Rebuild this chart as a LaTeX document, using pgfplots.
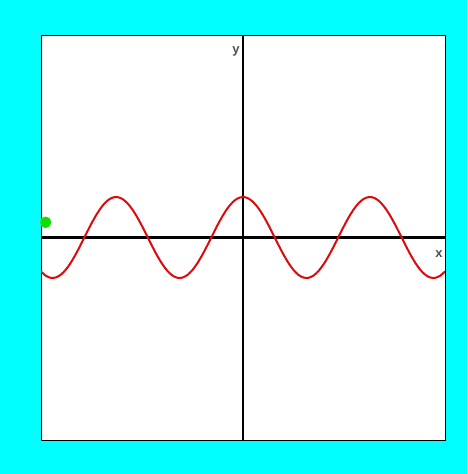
\documentclass[border=0pt]{standalone}
\usepackage{pgfplots}
\pgfplotsset{compat=1.18}
\usepackage{fontspec}
\setmainfont{Liberation Sans}
\definecolor{bgcyan}{RGB}{0,255,255}
\definecolor{curvered}{RGB}{220,10,10}
\definecolor{dotgreen}{RGB}{20,220,0}
\definecolor{labgray}{RGB}{80,80,80}
\begin{document}
\begin{tikzpicture}
\fill[bgcyan] (0,0) rectangle (467pt,474pt);
\begin{axis}[
    at={(41pt,34pt)}, anchor=south west,
    width=404pt, height=405pt, scale only axis,
    xmin=-10, xmax=10, ymin=-5, ymax=5,
    axis background/.style={fill=white},
    axis line style={black, line width=0.8pt},
    xtick=\empty, ytick=\empty,
    clip=true,
]
% axes through the origin
\addplot[black, line width=2.1pt] coordinates {(-10,0) (10,0)};
\addplot[black, line width=2.1pt] coordinates {(0,-5) (0,5)};
\addplot[curvered, line width=2pt, smooth] coordinates {
(-10,-0.8391) (-9.75,-0.9476) (-9.5,-0.9972) (-9.25,-0.9848) (-9,-0.9111)
(-8.75,-0.7809) (-8.5,-0.6020) (-8.25,-0.3858) (-8,-0.1455) (-7.75,0.1038)
(-7.5,0.3466) (-7.25,0.5679) (-7,0.7539) (-6.75,0.8930) (-6.5,0.9766)
(-6.25,0.9994) (-6,0.9602) (-5.75,0.8612) (-5.5,0.7087) (-5.25,0.5120)
(-5,0.2837) (-4.75,0.0376) (-4.5,-0.2108) (-4.25,-0.4461) (-4,-0.6536)
(-3.75,-0.8206) (-3.5,-0.9365) (-3.25,-0.9941) (-3,-0.9900) (-2.75,-0.9243)
(-2.5,-0.8011) (-2.25,-0.6282) (-2,-0.4161) (-1.75,-0.1782) (-1.5,0.0707)
(-1.25,0.3153) (-1,0.5403) (-0.75,0.7317) (-0.5,0.8776) (-0.25,0.9689)
(0,1)
(0.25,0.9689) (0.5,0.8776) (0.75,0.7317) (1,0.5403) (1.25,0.3153)
(1.5,0.0707) (1.75,-0.1782) (2,-0.4161) (2.25,-0.6282) (2.5,-0.8011)
(2.75,-0.9243) (3,-0.9900) (3.25,-0.9941) (3.5,-0.9365) (3.75,-0.8206)
(4,-0.6536) (4.25,-0.4461) (4.5,-0.2108) (4.75,0.0376) (5,0.2837)
(5.25,0.5120) (5.5,0.7087) (5.75,0.8612) (6,0.9602) (6.25,0.9994)
(6.5,0.9766) (6.75,0.8930) (7,0.7539) (7.25,0.5679) (7.5,0.3466)
(7.75,0.1038) (8,-0.1455) (8.25,-0.3858) (8.5,-0.6020) (8.75,-0.7809)
(9,-0.9111) (9.25,-0.9848) (9.5,-0.9972) (9.75,-0.9476) (10,-0.8391)
};
\addplot[only marks, mark=*, mark size=5.5pt, dotgreen, mark options={draw=dotgreen, fill=dotgreen}] coordinates {(-9.77,0.375)};
\node[font=\bfseries\fontsize{13}{13}\selectfont, text=labgray] at (axis cs:-0.35,4.6) {y};
\node[font=\bfseries\fontsize{13}{13}\selectfont, text=labgray] at (axis cs:9.7,-0.42) {x};
\end{axis}
\end{tikzpicture}
\end{document}
